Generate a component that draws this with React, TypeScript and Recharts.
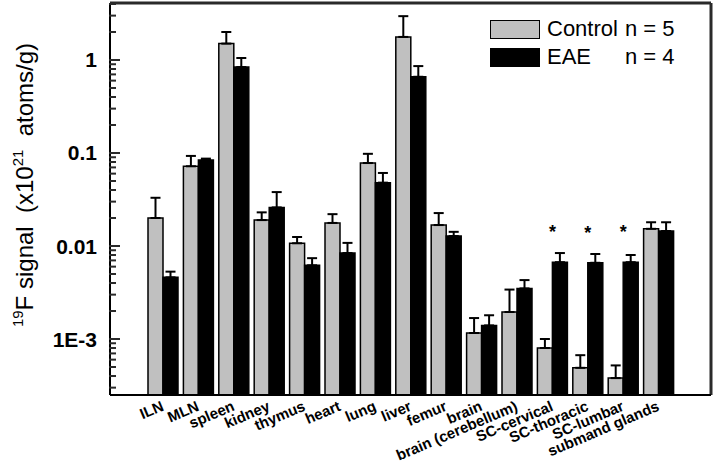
import React from 'react';
import { BarChart, Bar, XAxis, YAxis, ErrorBar, Legend, LabelList, CartesianGrid } from 'recharts';

const categories = [
  'ILN', 'MLN', 'spleen', 'kidney', 'thymus', 'heart', 'lung', 'liver', 'femur',
  'brain', 'brain (cerebellum)', 'SC-cervical', 'SC-thoracic', 'SC-lumbar', 'submand glands',
];
const controlMean = [0.020, 0.072, 1.5, 0.019, 0.0107, 0.0177, 0.078, 1.77, 0.0168, 0.00116, 0.00195, 0.0008, 0.00049, 0.00038, 0.0153];
const controlTop = [0.033, 0.093, 2.0, 0.023, 0.0125, 0.022, 0.098, 2.96, 0.0226, 0.00168, 0.0034, 0.001, 0.00067, 0.00052, 0.018];
const eaeMean = [0.0046, 0.084, 0.84, 0.026, 0.0062, 0.0084, 0.048, 0.66, 0.0128, 0.0014, 0.0035, 0.0067, 0.0066, 0.0067, 0.0145];
const eaeTop = [0.0053, 0.087, 1.05, 0.038, 0.0074, 0.0108, 0.061, 0.86, 0.0142, 0.0018, 0.0043, 0.0084, 0.0082, 0.008, 0.018];
const significance = ['', '', '', '', '', '', '', '', '', '', '', '*', '*', '*', ''];

const seriesNames = ['Control', 'EAE'];
const seriesN = ['n = 5', 'n = 4'];
const seriesFill = ['#c0c0c0', '#000000'];

const yMajorTicks = [0.001, 0.01, 0.1, 1];
const yTickLabels = ['1E-3', '0.01', '0.1', '1'];
const yDomain = [2.5e-4, 4.1];

const FONT = '"Liberation Sans", Arial, sans-serif';
const AXIS_X = 110;
const INK = '#2a2a2a';

const data = categories.map((name, i) => ({
  name,
  control: controlMean[i],
  controlErr: [0, controlTop[i] - controlMean[i]],
  eae: eaeMean[i],
  eaeErr: [0, eaeTop[i] - eaeMean[i]],
  star: significance[i],
}));

// minor ticks 2..9 in every decade that fits in the domain
const yTicks: number[] = [];
for (let e = -4; e <= 0; e++) {
  for (let m = 1; m <= 9; m++) {
    const v = m * Math.pow(10, e);
    if (v >= yDomain[0] && v <= yDomain[1]) yTicks.push(v);
  }
}

// inward ticks: long for decades, short for the rest
const YTick = (props: any) => {
  const { y, payload } = props;
  const v = payload.value;
  const idx = yMajorTicks.findIndex((t) => Math.abs(t - v) / t < 1e-6);
  return (
    <g>
      <rect x={AXIS_X - 1} y={y - 1} width={idx >= 0 ? 11 : 7} height={2} fill={INK} />
      {idx >= 0 && (
        <text x={AXIS_X - 13} y={y} dy={7.5} textAnchor="end" fontFamily={FONT} fontWeight="bold" fontSize={21} fill="#000">
          {yTickLabels[idx]}
        </text>
      )}
    </g>
  );
};

const XTick = (props: any) => {
  const { x, y, payload } = props;
  return (
    <text
      x={x + 2}
      y={y}
      textAnchor="end"
      transform={`rotate(-23, ${x + 2}, ${y})`}
      fontFamily={FONT}
      fontWeight="bold"
      fontSize={15}
      fill="#000"
    >
      {payload.value}
    </text>
  );
};

const YLabel = () => (
  <text
    x={33}
    y={185}
    textAnchor="middle"
    transform="rotate(-90, 33, 185)"
    fontFamily={FONT}
    fontSize={24}
    fill="#000"
    style={{ whiteSpace: 'pre' }}
  >
    <tspan fontSize={15} dy={-10}>19</tspan>
    <tspan dy={10}>F signal  (x10</tspan>
    <tspan fontSize={15} dy={-10}>21</tspan>
    <tspan dy={10}>  atoms/g)</tspan>
  </text>
);

const StarLabel = (props: any) => {
  const { x, y, value } = props;
  if (!value) return null;
  return (
    <text x={x} y={y - 24} textAnchor="middle" fontFamily={FONT} fontWeight="bold" fontSize={18} fill="#000">
      {value}
    </text>
  );
};

const LegendBox = () => (
  <div style={{ fontFamily: FONT, fontSize: 22, color: '#000' }}>
    {seriesNames.map((s, i) => (
      <div key={s} style={{ display: 'flex', alignItems: 'center', height: 28 }}>
        <span
          style={{
            width: 48,
            height: 17,
            background: seriesFill[i],
            border: '1px solid #000',
            display: 'inline-block',
            marginRight: 7,
          }}
        />
        <span style={{ width: 78, display: 'inline-block' }}>{s}</span>
        <span>{seriesN[i]}</span>
      </div>
    ))}
  </div>
);

export default function App() {
  return (
    <div style={{ position: 'absolute', left: 0, top: 0, background: '#fff' }}>
      <BarChart
        width={715}
        height={470}
        data={data}
        margin={{ top: 3, right: 4, bottom: 0, left: 30 }}
        barCategoryGap={3}
        barGap={0}
      >
        {/* top and right edges of the plot frame */}
        <CartesianGrid
          stroke={INK}
          strokeWidth={3}
          horizontalCoordinatesGenerator={({ offset }: any) => [offset.top]}
          verticalCoordinatesGenerator={({ offset }: any) => [offset.left + offset.width]}
        />
        <XAxis
          dataKey="name"
          interval={0}
          height={75}
          padding={{ left: 35, right: 35 }}
          tickLine={false}
          tickSize={0}
          tickMargin={15}
          tick={<XTick />}
          axisLine={{ stroke: '#000', strokeWidth: 2 }}
        />
        <YAxis
          scale="log"
          domain={yDomain}
          allowDataOverflow
          ticks={yTicks}
          interval={0}
          width={80}
          tickLine={false}
          tickSize={0}
          tickMargin={8}
          tick={<YTick />}
          axisLine={{ stroke: '#000', strokeWidth: 2 }}
          label={<YLabel />}
        />
        <Legend
          layout="vertical"
          align="center"
          verticalAlign="middle"
          wrapperStyle={{ left: 490, top: 15, width: 215 }}
          content={<LegendBox />}
        />
        <Bar dataKey="control" name="Control" fill={seriesFill[0]} stroke="#000" strokeWidth={1.5} isAnimationActive={false}>
          <ErrorBar dataKey="controlErr" width={5} stroke="#000" strokeWidth={2} direction="y" />
        </Bar>
        <Bar dataKey="eae" name="EAE" fill={seriesFill[1]} stroke="#000" strokeWidth={1.5} isAnimationActive={false}>
          <ErrorBar dataKey="eaeErr" width={5} stroke="#000" strokeWidth={2} direction="y" />
          <LabelList dataKey="star" content={<StarLabel />} />
        </Bar>
      </BarChart>
    </div>
  );
}
